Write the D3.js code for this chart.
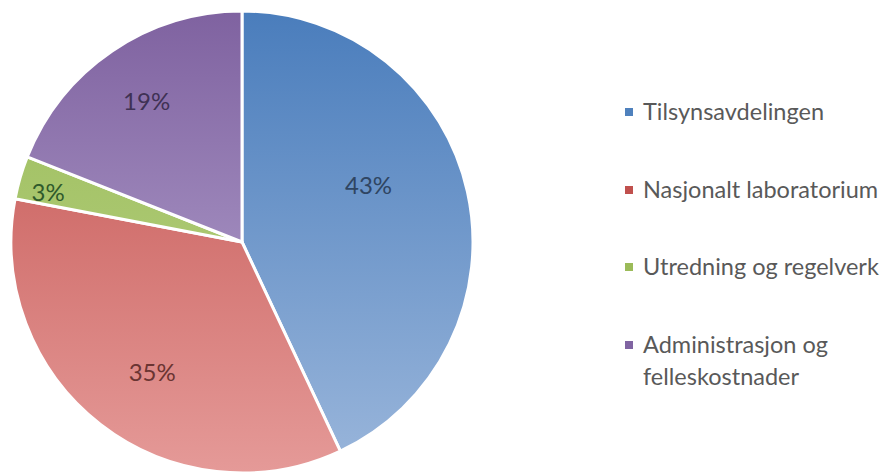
<!DOCTYPE html>
<html><head><meta charset="utf-8">
<script src="https://cdn.jsdelivr.net/npm/d3@7"></script>
<style>body{margin:0;background:#fff}svg{display:block}</style>
</head><body>
<svg id="c" width="883" height="472"></svg>
<script>
const categories = ["Tilsynsavdelingen", "Nasjonalt laboratorium", "Utredning og regelverk", "Administrasjon og felleskostnader"];
const values = [43, 35, 3, 19];
const labels = ["43%", "35%", "3%", "19%"];
const topColors = ["#4a7dbc", "#c2504d", "#9bbb59", "#7f62a0"];
const bottomColors = ["#9ab6db", "#e59a98", "#b9d487", "#bcadd6"];
const labelColors = ["#2f4562", "#6a3432", "#2f5a2c", "#3f3154"];
const legendColors = ["#4f81bd", "#c0504d", "#9bbb59", "#8064a2"];

const svg = d3.select("#c");
const cx = 242, cy = 242, r = 231;
const defs = svg.append("defs");
categories.forEach((c, i) => {
  const g = defs.append("linearGradient").attr("id", "g" + i)
    .attr("gradientUnits", "userSpaceOnUse")
    .attr("x1", 0).attr("y1", -r).attr("x2", 0).attr("y2", r);
  g.append("stop").attr("offset", 0).attr("stop-color", topColors[i]);
  g.append("stop").attr("offset", 1).attr("stop-color", bottomColors[i]);
});
const pie = d3.pie().sort(null).value(d => d)(values);
const arc = d3.arc().innerRadius(0).outerRadius(r);
const gp = svg.append("g").attr("transform", `translate(${cx},${cy})`);
gp.selectAll("path").data(pie).join("path")
  .attr("d", arc)
  .attr("fill", (d, i) => `url(#g${i})`)
  .attr("stroke", "#fff").attr("stroke-width", 3).attr("stroke-linejoin", "round");

// label placement (radius fraction, angle fraction within slice)
const lRad = [0.6, 0.684, 0.867, 0.735];
const lAng = [0.426, 0.475, 0.34, 0.5];
gp.selectAll("text").data(pie).join("text")
  .attr("transform", (d, i) => {
    const a = d.startAngle + (d.endAngle - d.startAngle) * lAng[i];
    const rr = r * lRad[i];
    return `translate(${rr * Math.sin(a)},${-rr * Math.cos(a)})`;
  })
  .attr("text-anchor", "middle").attr("dy", "0.36em")
  .attr("font-family", "Lato, 'Open Sans', sans-serif").attr("font-size", 24)
  .attr("fill", (d, i) => labelColors[i])
  .text((d, i) => labels[i]);

const legend = svg.append("g").attr("transform", "translate(625,0)");
const ly = [112, 190, 267, 345];
categories.forEach((c, i) => {
  legend.append("rect").attr("x", 0).attr("y", ly[i] - 4).attr("width", 8).attr("height", 8)
    .attr("fill", legendColors[i]);
  const t = legend.append("text").attr("x", 18).attr("y", ly[i]).attr("dy", "0.36em")
    .attr("font-family", "Lato, 'Open Sans', sans-serif").attr("font-size", 23.5).attr("fill", "#595959");
  if (i === 3) {
    t.append("tspan").attr("x", 18).text("Administrasjon og");
    t.append("tspan").attr("x", 18).attr("dy", 32).text("felleskostnader");
  } else t.text(c);
});
</script>
</body></html>
